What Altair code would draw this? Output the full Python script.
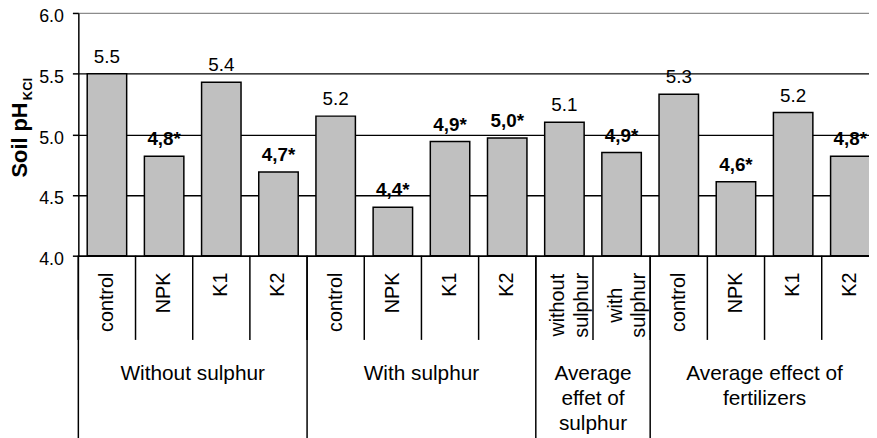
import altair as alt
import pandas as pd

# ---- data ----
groups = (["Without sulphur"] * 4 + ["With sulphur"] * 4
          + ["Average\neffet of\nsulphur"] * 2
          + ["Average effect of\nfertilizers"] * 4)
categories = ["control", "NPK", "K1", "K2",
              "control", "NPK", "K1", "K2",
              "without\nsulphur", "with\nsulphur",
              "control", "NPK", "K1", "K2"]
values = [5.50, 4.82, 5.43, 4.69, 5.15, 4.40, 4.94, 4.97,
          5.10, 4.85, 5.33, 4.61, 5.18, 4.82]
labels = ["5.5", "4,8*", "5.4", "4,7*", "5.2", "4,4*", "4,9*", "5,0*",
          "5.1", "4,9*", "5.3", "4,6*", "5.2", "4,8*"]
significant = [False, True, False, True, False, True, True, True,
               False, True, False, True, False, True]
y_ticks = [4.0, 4.5, 5.0, 5.5, 6.0]
y_title = ["Soil pH"]
y_title_sub = ["KCl"]

df = pd.DataFrame({
    "idx": list(range(len(values))),
    "category": categories,
    "group": groups,
    "value": values,
    "label": labels,
    "sig": significant,
})
df["multiline"] = df["category"].str.contains("\n")

FONT = "Liberation Sans"
BAR_FRAC = 0.69

xs = alt.Scale(domain=[0, len(values)], range=[0, 808], nice=False, zero=False)
ys = alt.Scale(domain=[4.0, 6.0], nice=False, zero=False)

x_axis = alt.Axis(labels=False, ticks=False, grid=False, domain=True,
                  domainColor="black", domainWidth=1.5, title=None)
y_axis = alt.Axis(values=y_ticks, format=".1f", grid=True,
                  gridColor={"condition": {"test": "datum.value === 6", "value": "#8c8c8c"},
                             "value": "black"},
                  gridWidth=1.3, domainColor="black", domainWidth=1.5,
                  tickColor="black", tickSize=6, tickWidth=1.5,
                  labelFontSize=18, labelColor="black", labelFont=FONT,
                  labelPadding=9, labelOffset=4, title=None)

base = alt.Chart(df).transform_calculate(
    xc="datum.idx + 0.5",
    x0=f"datum.idx + 0.5 - {BAR_FRAC / 2}",
    x1=f"datum.idx + 0.5 + {BAR_FRAC / 2}",
)

bars = base.mark_bar(fill="#c0c0c0", stroke="black", strokeWidth=1.5).encode(
    x=alt.X("x0:Q", scale=xs, axis=x_axis),
    x2="x1:Q",
    y=alt.Y("value:Q", scale=ys, axis=y_axis),
    y2=alt.datum(4.0),
)

val_plain = base.transform_filter("!datum.sig").mark_text(
    font=FONT, fontSize=19, dy=-17, baseline="middle", color="black"
).encode(x=alt.X("xc:Q", scale=xs), y=alt.Y("value:Q", scale=ys), text="label:N")

val_bold = base.transform_filter("datum.sig").mark_text(
    font=FONT, fontSize=19, fontWeight="bold", dy=-17, baseline="middle", color="black"
).encode(x=alt.X("xc:Q", scale=xs), y=alt.Y("value:Q", scale=ys), text="label:N")

cat_single = base.transform_filter("!datum.multiline").mark_text(
    font=FONT, fontSize=20, angle=270, align="right", baseline="middle", color="black"
).encode(x=alt.X("xc:Q", scale=xs), y=alt.value(262), text="category:N")

cat_multi = base.transform_filter("datum.multiline").mark_text(
    font=FONT, fontSize=20, angle=270, align="center", baseline="middle",
    lineBreak="\n", lineHeight=24, dy=-6, color="black"
).encode(x=alt.X("xc:Q", scale=xs), y=alt.value(295), text="category:N")

short_sep = base.mark_rule(color="black", strokeWidth=1.5).encode(
    x=alt.X("idx:Q", scale=xs), y=alt.value(245), y2=alt.value(330)
)

group_sep = alt.Chart(df).transform_aggregate(
    start="min(idx)", groupby=["group"]
).mark_rule(color="black", strokeWidth=1.5).encode(
    x=alt.X("start:Q", scale=xs), y=alt.value(245), y2=alt.value(430)
)

group_lab = alt.Chart(df).transform_aggregate(
    lo="min(idx)", hi="max(idx)", groupby=["group"]
).transform_calculate(
    mid="(datum.lo + datum.hi + 1) / 2"
).mark_text(
    font=FONT, fontSize=21, align="center", baseline="top",
    lineBreak="\n", lineHeight=25.5, color="black"
).encode(x=alt.X("mid:Q", scale=xs), y=alt.value(353), text="group:N")

title_main = alt.Chart(pd.DataFrame({"t": y_title})).mark_text(
    font=FONT, fontSize=22, fontWeight="bold", angle=270, align="left",
    baseline="middle", color="black"
).encode(x=alt.value(-59), y=alt.value(166), text="t:N")

title_sub = alt.Chart(pd.DataFrame({"t": y_title_sub})).mark_text(
    font=FONT, fontSize=13, fontWeight="bold", angle=270, align="left",
    baseline="middle", color="black"
).encode(x=alt.value(-51), y=alt.value(88), text="t:N")

chart = alt.layer(
    bars, short_sep, group_sep, val_plain, val_bold,
    cat_single, cat_multi, group_lab, title_main, title_sub
).properties(
    width=798, height=245,
    autosize=alt.AutoSizeParams(type="none"),
    padding={"left": 71, "top": 3, "right": 0, "bottom": 182},
).configure_view(stroke=None)

chart.save("out.html", embed_options={"renderer": "svg", "actions": False})
